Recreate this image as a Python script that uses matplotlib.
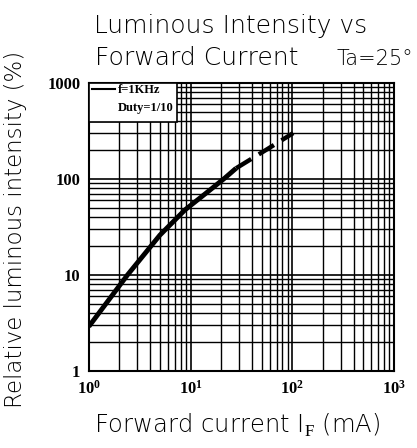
import numpy as np
import matplotlib
matplotlib.use("Agg")
import matplotlib.pyplot as plt
from matplotlib.ticker import LogLocator, FixedLocator, NullFormatter

# 데이터
i_solid = [1.0, 2.4, 5.0, 8.8, 14.9, 21.7, 28.0]
lum_solid = [2.9, 10.0, 26.0, 47.5, 74.0, 102.0, 129.0]
i_dash = [28.0, 55.0, 102.0]
lum_dash = [129.0, 200.0, 300.0]
yticks = [1, 10, 100, 1000]
ytick_labels = ["1", "10", "100", "1000"]
xticks = [1, 10, 100, 1000]
xtick_labels = [r"$\mathbf{10^{0}}$", r"$\mathbf{10^{1}}$", r"$\mathbf{10^{2}}$", r"$\mathbf{10^{3}}$"]

plt.rcParams.update({"mathtext.fontset": "custom", "mathtext.rm": "Liberation Serif",
                     "mathtext.bf": "Liberation Serif:bold"})

fig = plt.figure(figsize=(4.17, 4.48), dpi=100)
ax = fig.add_axes([0.213, 0.172, 0.732, 0.643])
ax.set_xscale("log"); ax.set_yscale("log")
ax.set_xlim(1, 1000); ax.set_ylim(1, 1000)

ax.xaxis.set_major_locator(FixedLocator(xticks))
ax.yaxis.set_major_locator(FixedLocator(yticks))
ax.xaxis.set_minor_locator(LogLocator(base=10, subs=np.arange(2, 10)))
ax.yaxis.set_minor_locator(LogLocator(base=10, subs=np.arange(2, 10)))
ax.xaxis.set_minor_formatter(NullFormatter()); ax.yaxis.set_minor_formatter(NullFormatter())
ax.set_xticklabels(xtick_labels, fontsize=12)
ax.set_yticklabels(ytick_labels, fontsize=12, family="Liberation Serif", fontweight="bold")
ax.tick_params(which="both", length=0)
ax.tick_params(axis="y", pad=6); ax.tick_params(axis="x", pad=6)
ax.grid(which="major", color="black", lw=1.2)
ax.grid(which="minor", color="black", lw=1.0)
for s in ax.spines.values():
    s.set_linewidth(1.5)

ax.plot(i_solid, lum_solid, color="black", lw=3.5, solid_capstyle="butt", zorder=5)
ax.plot(i_dash, lum_dash, color="black", lw=3.2, ls=(0, (4, 2)), zorder=5)

# 범례 상자
ax.add_patch(plt.Rectangle((0, 0.865), 0.29, 0.135, transform=ax.transAxes,
                           facecolor="white", edgecolor="black", lw=1.2, zorder=6))
ax.plot([0.01, 0.085], [0.978, 0.978], transform=ax.transAxes, color="black", lw=1.5, zorder=7)
ax.text(0.095, 0.976, "f=1KHz", transform=ax.transAxes, fontsize=9, fontweight="bold",
        family="Liberation Serif", va="center", zorder=7)
ax.text(0.095, 0.912, "Duty=1/10", transform=ax.transAxes, fontsize=9, fontweight="bold",
        family="Liberation Serif", va="center", zorder=7)

fig.text(0.226, 0.926, "Luminous Intensity vs", fontsize=18, fontweight="light", color="black")
fig.text(0.228, 0.855, "Forward Current", fontsize=18, fontweight="light", color="black")
fig.text(0.808, 0.855, "Ta=25°", fontsize=15, fontweight="light", color="black")
fig.text(0.036, 0.487, "Relative luminous intensity (%)", rotation=90, fontsize=16.5,
         fontweight="light", ha="center", va="center")
fig.text(0.568, 0.051, r"Forward current I$_{\mathrm{F}}$ (mA)", fontsize=17.5,
         fontweight="light", ha="center", va="center")

fig.savefig("out.png", dpi=100)
